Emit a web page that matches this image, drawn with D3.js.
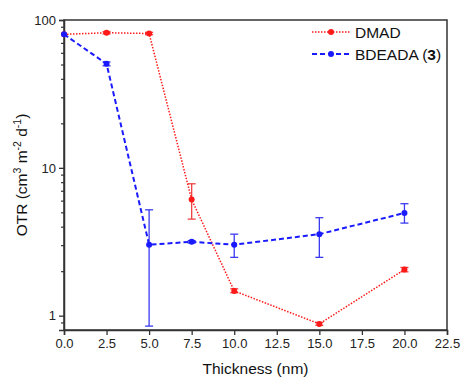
<!DOCTYPE html>
<html>
<head>
  <style>
    body { margin: 0; background: #fff; font-family: "Liberation Sans", Arial, sans-serif; }
    .tick text { font-size: 13px; fill: #222; }
    .axis-title { font-size: 15.5px; fill: #111; }
    .legend text { font-size: 15.5px; fill: #111; }
  </style>
  <script src="https://d3js.org/d3.v7.min.js"></script>
</head>
<body>
<div id="chart"></div>
<script>
// thickness (nm)
const thickness = [0, 2.5, 5, 7.5, 10, 15, 20];

// DMAD OTR values and error bar ends
const dmadOTR  = [80, 82, 81, 6.1, 1.47, 0.88, 2.05];
const dmadLow  = [80, 80.5, 79.5, 4.5, 1.43, 0.86, 1.98];
const dmadHigh = [80, 83.5, 82.5, 7.8, 1.52, 0.90, 2.12];

// BDEADA (3) OTR values and error bar ends
const bdeOTR  = [80, 50.5, 3.02, 3.16, 3.02, 3.56, 4.95];
const bdeLow  = [80, 49, 0.85, 3.1, 2.48, 2.48, 4.23];
const bdeHigh = [80, 52, 5.2, 3.22, 3.56, 4.6, 5.72];

const xTicks = [0, 2.5, 5, 7.5, 10, 12.5, 15, 17.5, 20, 22.5];
const yMajor = [1, 10, 100];
const yMinor = [0.9, 2, 3, 4, 5, 6, 7, 8, 9, 20, 30, 40, 50, 60, 70, 80, 90];

const width = 461, height = 378;
const margin = {top: 20, right: 14, bottom: 48, left: 64};

const svg = d3.select('#chart').append('svg')
  .attr('width', width)
  .attr('height', height);

const x = d3.scaleLinear().domain([0, 22.5]).range([margin.left, width - margin.right]);
const y = d3.scaleLog().domain([0.8, 100]).range([height - margin.bottom, margin.top]);

const axisColor = '#333';

// frame
svg.append('rect')
  .attr('x', margin.left).attr('y', margin.top)
  .attr('width', x.range()[1] - margin.left)
  .attr('height', y.range()[0] - margin.top)
  .attr('fill', 'none').attr('stroke', axisColor).attr('stroke-width', 1.5);

// x axis
svg.append('g')
  .attr('transform', `translate(0,${y.range()[0]})`)
  .call(d3.axisBottom(x).tickValues(xTicks).tickFormat(d3.format('.1f')).tickSize(5).tickPadding(4))
  .call(g => g.select('.domain').attr('stroke', axisColor).attr('stroke-width', 1.5))
  .call(g => g.selectAll('.tick line').attr('stroke', axisColor).attr('stroke-width', 1.3));

// y axis major + minor
svg.append('g')
  .attr('transform', `translate(${margin.left},0)`)
  .call(d3.axisLeft(y).tickValues(yMinor).tickFormat('').tickSize(3))
  .call(g => g.select('.domain').remove())
  .call(g => g.selectAll('.tick line').attr('stroke', axisColor).attr('stroke-width', 1.2));

svg.append('g')
  .attr('transform', `translate(${margin.left},0)`)
  .call(d3.axisLeft(y).tickValues(yMajor).tickFormat(d3.format('d')).tickSize(5).tickPadding(3))
  .call(g => g.select('.domain').attr('stroke', axisColor).attr('stroke-width', 1.5))
  .call(g => g.selectAll('.tick line').attr('stroke', axisColor).attr('stroke-width', 1.3));

// axis titles
svg.append('text')
  .attr('class', 'axis-title')
  .attr('x', (margin.left + x.range()[1]) / 2)
  .attr('y', 374)
  .attr('text-anchor', 'middle')
  .text('Thickness (nm)');

const yTitle = svg.append('text')
  .attr('class', 'axis-title')
  .attr('transform', `translate(27,${(margin.top + y.range()[0]) / 2}) rotate(-90)`)
  .attr('text-anchor', 'middle');
yTitle.append('tspan').text('OTR (cm');
yTitle.append('tspan').attr('dy', -6).attr('font-size', '10.5px').text('3');
yTitle.append('tspan').attr('dy', 6).text(' m');
yTitle.append('tspan').attr('dy', -6).attr('font-size', '10.5px').text('-2');
yTitle.append('tspan').attr('dy', 6).text(' d');
yTitle.append('tspan').attr('dy', -6).attr('font-size', '10.5px').text('-1');
yTitle.append('tspan').attr('dy', 6).text(')');

function drawSeries(vals, lo, hi, color, errColor, dash, lw) {
  const pts = thickness.map((t, i) => ({t, v: vals[i], lo: lo[i], hi: hi[i]}));
  const g = svg.append('g');

  // error bars
  const eb = g.selectAll('.eb').data(pts.filter(d => d.hi > d.lo)).enter().append('g');
  eb.append('line')
    .attr('x1', d => x(d.t)).attr('x2', d => x(d.t))
    .attr('y1', d => y(d.lo)).attr('y2', d => y(d.hi))
    .attr('stroke', errColor).attr('stroke-width', 1.3);
  [d => d.lo, d => d.hi].forEach(acc => {
    eb.append('line')
      .attr('x1', d => x(d.t) - 4).attr('x2', d => x(d.t) + 4)
      .attr('y1', d => y(acc(d))).attr('y2', d => y(acc(d)))
      .attr('stroke', errColor).attr('stroke-width', 1.3);
  });

  g.append('path')
    .datum(pts)
    .attr('fill', 'none')
    .attr('stroke', color)
    .attr('stroke-width', lw)
    .attr('stroke-dasharray', dash)
    .attr('d', d3.line().x(d => x(d.t)).y(d => y(d.v)));

  g.selectAll('circle').data(pts).enter().append('circle')
    .attr('cx', d => x(d.t)).attr('cy', d => y(d.v))
    .attr('r', 3)
    .attr('fill', color);
}

drawSeries(dmadOTR, dmadLow, dmadHigh, '#ff1a1a', '#f04040', '1.5,1.5', 1.5);
drawSeries(bdeOTR, bdeLow, bdeHigh, '#1a1aff', '#3a3af0', '5,3', 2);

// legend
const legendItems = [
  {name: 'DMAD', color: '#ff1a1a', dash: '1.5,1.5', lw: 1.5},
  {name: 'BDEADA', bold: '3', color: '#1a1aff', dash: '5,3', lw: 2}
];
const legend = svg.append('g').attr('class', 'legend')
  .attr('transform', 'translate(312,32)');
const li = legend.selectAll('g').data(legendItems).enter().append('g')
  .attr('transform', (d, i) => `translate(0,${i * 22})`);
li.append('line')
  .attr('x1', 0).attr('x2', 38).attr('y1', 0).attr('y2', 0)
  .attr('stroke', d => d.color).attr('stroke-width', d => d.lw)
  .attr('stroke-dasharray', d => d.dash);
li.append('circle').attr('cx', 19).attr('cy', 0).attr('r', 3).attr('fill', d => d.color);
li.append('text')
  .attr('x', 43).attr('y', 5.5)
  .each(function(d) {
    const t = d3.select(this);
    t.append('tspan').text(d.name);
    if (d.bold) {
      t.append('tspan').text(' (');
      t.append('tspan').attr('font-weight', 'bold').text(d.bold);
      t.append('tspan').text(')');
    }
  });
</script>
</body>
</html>
